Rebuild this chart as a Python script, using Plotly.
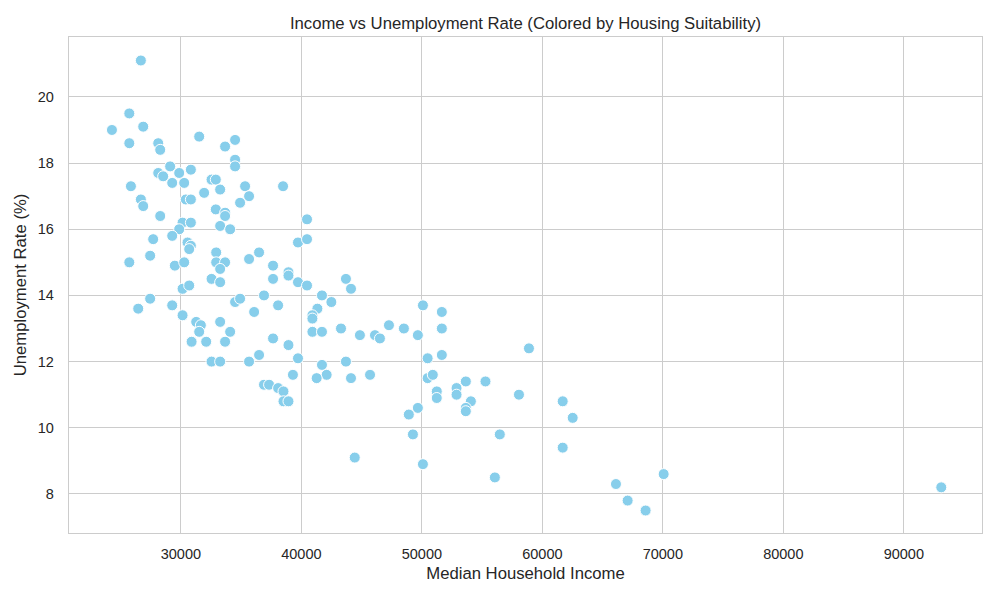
import plotly.graph_objects as go

income = [
    26680, 25720, 24280, 26875, 25720, 28120, 28285, 31520, 33670, 34500,
    34500, 34500, 29110, 28120, 28530, 29860, 29280, 30275, 30830, 32545,
    32900, 33260, 31930, 35330, 38480, 35660, 34915, 25855, 26680, 26875,
    30415, 30830, 32900, 33670, 33670, 28285, 30140, 30830, 29860, 33260,
    34090, 40470,
    27700, 29280, 30550, 30830, 30690, 39720, 40470, 25720, 27450, 29500,
    30275, 32930, 32930, 33670, 33260, 35660, 36490, 37650, 37650, 38930,
    38930, 39720, 40470, 32545, 33260, 30140, 30690, 27450, 26460, 29280,
    30140, 34500, 34915, 36900, 36080, 38070, 31270, 31660, 31520, 33260,
    34090, 30890, 32100, 33670, 37650, 38930, 36490, 35660, 32545, 33260,
    39720, 39300, 36900, 37320, 38070, 38515, 38515, 38930,
    43700, 44120, 41710, 42490, 41330, 40915, 40915, 40915, 41710, 43290,
    44860, 46110, 46520, 47270, 48510, 49670, 50090, 51660, 51660, 51660,
    50480, 50480, 50910, 51240, 51240, 52880, 52880, 48920, 49670, 49260,
    50090, 44430, 41710, 42100, 41270, 43700, 44120, 45700,
    58890, 53650, 55280, 54070, 53650, 53650, 58060, 61690, 62520, 61690,
    56470, 56060, 66110, 67080, 68570, 70070, 93110,
]

unemployment = [
    21.1, 19.5, 19.0, 19.1, 18.6, 18.6, 18.4, 18.8, 18.5, 18.7,
    18.1, 17.9, 17.9, 17.7, 17.6, 17.7, 17.4, 17.4, 17.8, 17.5,
    17.5, 17.2, 17.1, 17.3, 17.3, 17.0, 16.8, 17.3, 16.9, 16.7,
    16.9, 16.9, 16.6, 16.5, 16.4, 16.4, 16.2, 16.2, 16.0, 16.1,
    16.0, 16.3,
    15.7, 15.8, 15.6, 15.5, 15.4, 15.6, 15.7, 15.0, 15.2, 14.9,
    15.0, 15.3, 15.0, 15.0, 14.8, 15.1, 15.3, 14.9, 14.5, 14.7,
    14.6, 14.4, 14.3, 14.5, 14.4, 14.2, 14.3, 13.9, 13.6, 13.7,
    13.4, 13.8, 13.9, 14.0, 13.5, 13.7, 13.2, 13.1, 12.9, 13.2,
    12.9, 12.6, 12.6, 12.6, 12.7, 12.5, 12.2, 12.0, 12.0, 12.0,
    12.1, 11.6, 11.3, 11.3, 11.2, 11.1, 10.8, 10.8,
    14.5, 14.2, 14.0, 13.8, 13.6, 13.4, 13.3, 12.9, 12.9, 13.0,
    12.8, 12.8, 12.7, 13.1, 13.0, 12.8, 13.7, 13.5, 13.0, 12.2,
    12.1, 11.5, 11.6, 11.1, 10.9, 11.2, 11.0, 10.4, 10.6, 9.8,
    8.9, 9.1, 11.9, 11.6, 11.5, 12.0, 11.5, 11.6,
    12.4, 11.4, 11.4, 10.8, 10.6, 10.5, 11.0, 10.8, 10.3, 9.4,
    9.8, 8.5, 8.3, 7.8, 7.5, 8.6, 8.2,
]

x_ticks = [30000, 40000, 50000, 60000, 70000, 80000, 90000]
y_ticks = [8, 10, 12, 14, 16, 18, 20]

FONT = "Liberation Sans, Arial, sans-serif"
TXT = "#262626"
GRID = "#cccccc"

fig = go.Figure()
fig.add_trace(go.Scatter(
    x=income, y=unemployment, mode="markers",
    marker=dict(size=11, color="#87CEEB", line=dict(color="white", width=1)),
    showlegend=False,
))

fig.update_layout(
    width=1000, height=600,
    margin=dict(l=61, r=26, t=29, b=75, autoexpand=False),
    paper_bgcolor="white", plot_bgcolor="white",
    font=dict(family=FONT, color=TXT, size=12),
    title=dict(text="Income vs Unemployment Rate (Colored by Housing Suitability)",
               x=0.5, xanchor="center", xref="paper", y=1 - 15 / 600, yanchor="middle",
               font=dict(size=16.7, color=TXT, family=FONT)),
)
fig.update_xaxes(
    range=[20715, 96490], tickvals=x_ticks, ticktext=[str(v) for v in x_ticks],
    showgrid=True, gridcolor=GRID, gridwidth=1, zeroline=False,
    showline=True, linecolor=GRID, linewidth=1.3, mirror=True,
    ticks="outside", ticklen=7, tickcolor="rgba(0,0,0,0)",
    tickfont=dict(size=14.5, color=TXT),
    title=dict(text="Median Household Income", font=dict(size=16.7, color=TXT), standoff=6),
)
fig.update_yaxes(
    range=[6.82, 21.81], tickvals=y_ticks, ticktext=[str(v) for v in y_ticks],
    showgrid=True, gridcolor=GRID, gridwidth=1, zeroline=False,
    showline=True, linecolor=GRID, linewidth=1.3, mirror=True,
    ticks="outside", ticklen=11, tickcolor="rgba(0,0,0,0)",
    tickfont=dict(size=14.5, color=TXT),
    title=dict(text="Unemployment Rate (%)", font=dict(size=16.7, color=TXT), standoff=6),
)

fig.write_html("out.html")
